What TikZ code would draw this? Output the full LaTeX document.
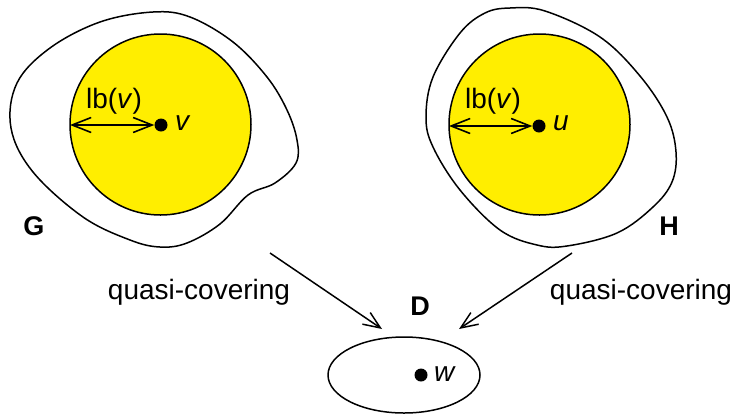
\documentclass[tikz,border=0pt]{standalone}
\usepackage{fontspec}
\setmainfont{Liberation Sans}
\usetikzlibrary{arrows.meta}
\definecolor{ballyellow}{RGB}{255,238,0}
\tikzset{
  blob/.style={draw=black, line width=1.5pt},
  ball/.style={draw=black, line width=1.5pt, fill=ballyellow},
  dotpt/.style={circle, fill=black, inner sep=0pt, minimum size=13pt},
  radarrow/.style={line width=1.6pt, {Straight Barb[length=19pt,width=15pt]}-{Straight Barb[length=19pt,width=15pt]}},
  maparrow/.style={line width=1.5pt, -{Straight Barb[length=17pt,width=14pt]}},
  txt/.style={font=\fontsize{28}{32}\selectfont, inner sep=0pt},
  gname/.style={font=\fontsize{27}{32}\selectfont\bfseries, inner sep=0pt},
}
\begin{document}
\begin{tikzpicture}[x=1pt,y=-1pt]
\useasboundingbox (0,0) rectangle (738,413);
% G blob
\draw[blob] plot[smooth cycle, tension=0.6] coordinates {
 (11,128) (17,83) (50,48) (100,22) (153,12) (190,17) (233,42) (267,77) (287,110)
 (297,140) (296,163) (275,183) (248,195) (220,224) (187,243) (160,247) (130,240) (83,217) (33,172)};
% H blob
\draw[blob] plot[smooth cycle, tension=0.6] coordinates {
 (510,8) (545,11) (600,37) (640,76) (667,117) (676,152) (672,182) (653,207) (617,233)
 (567,246) (537,245) (500,230) (460,190) (433,147) (426,117) (433,77) (460,33) (485,13)};
% yellow balls
\coordinate (vc) at (160.5,124.5);
\coordinate (uc) at (539.5,124.5);
\draw[ball] (vc) circle (90.5);
\draw[ball] (uc) circle (90.5);
\node[dotpt] (v) at (161,125) {};
\node[dotpt] (u) at (539,126) {};
\coordinate (vleft) at (70,125);
\coordinate (uleft) at (449,126);
\draw[radarrow] (vleft) -- (v.west);
\draw[radarrow] (uleft) -- (u.west);
\node[txt] (lbv) at (114,101) {lb(\textit{v})};
\node[txt] (lbu) at (493,101) {lb(\textit{v})};
\node[txt, anchor=west] (vlab) at (175,123) {\textit{v}};
\node[txt, anchor=west] (ulab) at (553,123) {\textit{u}};
% graph names
\node[gname] (G) at (34,226) {G};
\node[gname] (H) at (669,226) {H};
\node[gname] (Dn) at (420,306) {D};
% D ellipse
\draw[blob] (404,375) ellipse (76 and 38);
\node[dotpt] (w) at (421,375) {};
\node[txt, anchor=west] (wlab) at (434,374) {\textit{w}};
% arrows
\coordinate (gs) at (270,253);
\coordinate (ge) at (382,329);
\coordinate (hs) at (572,253);
\coordinate (he) at (459,329);
\draw[maparrow] (gs) -- (ge);
\draw[maparrow] (hs) -- (he);
\node[txt] (q1) at (199,292) {quasi-covering};
\node[txt] (q2) at (641,292) {quasi-covering};
\end{tikzpicture}
\end{document}
